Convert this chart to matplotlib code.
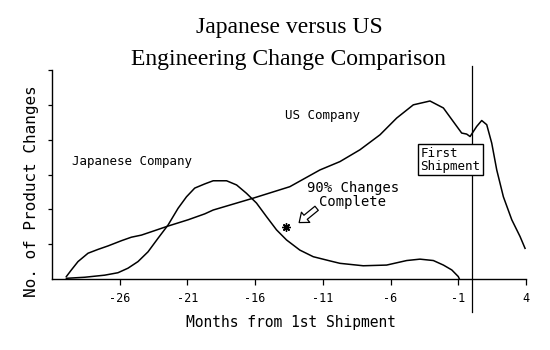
import matplotlib
matplotlib.use('agg')
import matplotlib.pyplot as plt

# months from first shipment
jp_months = [-29.94, -28.59, -27.11, -26.13, -25.39, -24.65, -23.91, -23.17, -22.43, -21.69,
             -21.07, -20.46, -19.72, -19.10, -18.11, -17.37, -16.64, -15.90, -15.16, -14.42,
             -13.68, -12.70, -11.71, -10.48, -9.74, -8.02, -6.29, -4.81, -3.83, -2.84,
             -2.10, -1.48, -1.00, -0.92]
jp_changes = [0.02, 0.05, 0.11, 0.18, 0.31, 0.50, 0.78, 1.17, 1.55, 2.03,
              2.36, 2.61, 2.73, 2.82, 2.82, 2.70, 2.46, 2.18, 1.79, 1.41,
              1.12, 0.83, 0.64, 0.52, 0.45, 0.38, 0.40, 0.53, 0.57, 0.53,
              0.40, 0.26, 0.07, 0.0]

us_months = [-29.94, -29.57, -29.08, -28.34, -27.60, -26.86, -25.87, -25.14, -24.40, -23.41,
             -22.43, -20.95, -19.72, -19.10, -16.15, -13.44, -11.22, -9.74, -8.26, -6.78,
             -5.55, -4.32, -3.09, -2.10, -1.37, -0.75, -0.38, -0.13, 0.36, 0.73,
             1.10, 1.47, 1.84, 2.33, 2.95, 3.56, 3.93]
us_changes = [0.07, 0.26, 0.50, 0.74, 0.85, 0.95, 1.10, 1.20, 1.26, 1.39,
              1.52, 1.70, 1.87, 1.98, 2.32, 2.65, 3.13, 3.37, 3.71, 4.14,
              4.62, 5.00, 5.11, 4.91, 4.52, 4.19, 4.16, 4.09, 4.38, 4.55,
              4.43, 3.90, 3.13, 2.36, 1.70, 1.22, 0.88]

xticks = [-26, -21, -16, -11, -6, -1, 4]
yticks = [1, 2, 3, 4, 5, 6]
ship_month = 0
done_month, done_value = -13.75, 1.50

mono = 'DejaVu Sans Mono'

fig = plt.figure(figsize=(5.5, 3.5), dpi=100)
ax = fig.add_axes([52 / 550, 1 - 279 / 350, 474 / 550, 209 / 350])

ax.plot(jp_months, jp_changes, color='black', lw=1.1, clip_on=False)
ax.plot(us_months, us_changes, color='black', lw=1.1, clip_on=False)

ax.set_xlim(-31.0, 4.0)
ax.set_ylim(0, 6)
for s in ['top', 'right']:
    ax.spines[s].set_visible(False)
for s in ['left', 'bottom']:
    ax.spines[s].set_linewidth(1.0)

ax.set_xticks(xticks)
ax.set_xticklabels([str(t) for t in xticks], fontfamily=mono, fontsize=8.5)
ax.set_yticks(yticks)
ax.set_yticklabels([])
ax.tick_params(axis='x', direction='out', length=4, width=0.9, pad=5)
ax.tick_params(axis='y', direction='out', length=3, width=0.9)

# first shipment marker line
ax.axvline(ship_month, ymin=-0.16, ymax=1.02, color='black', lw=0.9, clip_on=False)
ax.text(-3.8, 3.42, 'First\nShipment', fontfamily=mono, fontsize=9,
        ha='left', va='center', linespacing=1.0,
        bbox=dict(boxstyle='square,pad=0.2', fc='white', ec='black', lw=1.0))

ax.text(-29.55, 3.36, 'Japanese Company', fontfamily=mono, fontsize=9, va='center')
ax.text(-13.8, 4.68, 'US Company', fontfamily=mono, fontsize=9, va='center')
ax.text(-8.8, 2.41, '90% Changes\nComplete', fontfamily=mono, fontsize=10,
        ha='center', va='center', linespacing=0.95)
ax.plot([done_month], [done_value], marker=(8, 2, 0), ms=6, mew=1.0, color='black')
ax.annotate('', xy=(-12.75, 1.62), xytext=(-11.46, 2.03),
            arrowprops=dict(arrowstyle='simple,head_length=0.6,head_width=0.95,tail_width=0.38',
                            fc='white', ec='black', lw=0.9, shrinkA=0, shrinkB=0,
                            mutation_scale=10))

fig.text(0.527, 1 - 28 / 350, 'Japanese versus US', family='Liberation Serif',
         fontsize=17, ha='center', va='center')
fig.text(0.524, 1 - 59 / 350, 'Engineering Change Comparison', family='Liberation Serif',
         fontsize=17, ha='center', va='center')
fig.text(0.529, 1 - 323 / 350, 'Months from 1st Shipment', fontfamily=mono,
         fontsize=10.5, ha='center', va='center')
fig.text(32 / 550, 1 - 191 / 350, 'No. of Product Changes', fontfamily=mono,
         fontsize=11.5, ha='center', va='center', rotation=90)

fig.savefig('out.png', dpi=100, facecolor='white')
